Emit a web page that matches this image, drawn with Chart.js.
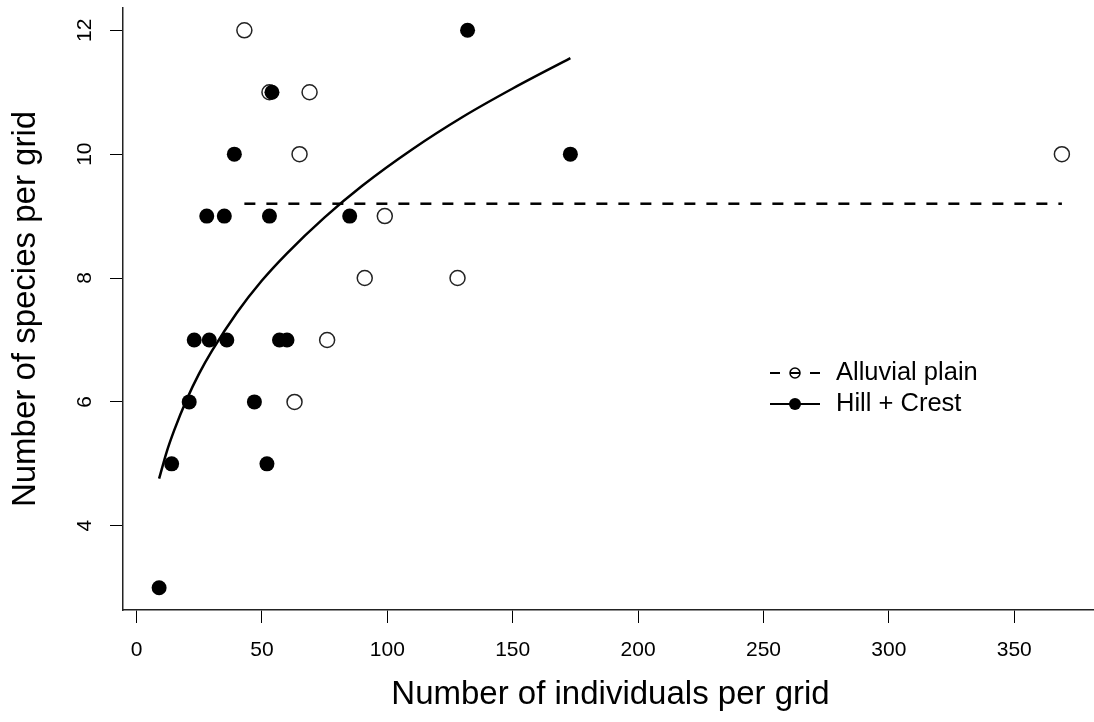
<!DOCTYPE html>
<html>
<head>
<meta charset="utf-8">
<title>Species vs individuals per grid</title>
<script src="https://cdn.jsdelivr.net/npm/chart.js@4.4.1/dist/chart.umd.min.js"></script>
<style>
    html, body { margin: 0; padding: 0; background: #fff; overflow: hidden; }
    #wrap { width: 1100px; height: 722px; }
</style>
</head>
<body>
<div id="wrap"><canvas id="speciesChart" width="1100" height="722"></canvas></div>
<script>
// Alluvial plain grids (open circles)
const alluvialX = [43, 53, 69, 65, 369, 99, 91, 128, 76, 63];
const alluvialY = [12, 11, 11, 10, 10, 9, 8, 8, 7, 6];

// Hill + Crest grids (filled circles)
const hillX = [132, 54, 39, 173, 28, 35, 53, 85, 23, 29, 36, 57, 60, 21, 47, 14, 52, 9];
const hillY = [12, 11, 10, 10, 9, 9, 9, 9, 7, 7, 7, 7, 7, 6, 6, 5, 5, 3];

// Fitted curve for Hill + Crest
const hillFitX = [9, 12, 15, 20, 25, 30, 40, 50, 60, 75, 90, 110, 130, 150, 173];
const hillFitY = [4.76, 5.19, 5.54, 6.04, 6.46, 6.82, 7.44, 7.96, 8.40, 8.98, 9.49, 10.08, 10.60, 11.06, 11.55];

// Mean line for Alluvial plain
const alluvialMeanX = [43, 369];
const alluvialMeanY = [9.2, 9.2];

// Axis ticks
const xTicks = [0, 50, 100, 150, 200, 250, 300, 350];
const yTicks = [4, 6, 8, 10, 12];

const legendItems = ['Alluvial plain', 'Hill + Crest'];

const FONT = '"Liberation Sans", Arial, Helvetica, sans-serif';

function toPoints(xs, ys) {
    return xs.map((x, i) => ({ x: x, y: ys[i] }));
}

// R style legend drawn inside the plot area
const insideLegend = {
    id: 'insideLegend',
    afterDraw(chart) {
        const ctx = chart.ctx;
        const x0 = 770, x1 = 820, xm = 795;
        const rows = [373, 404];
        ctx.save();
        ctx.strokeStyle = '#000';
        ctx.fillStyle = '#000';
        ctx.lineWidth = 2;

        // dashed line with open circle
        ctx.setLineDash([10, 10]);
        ctx.beginPath();
        ctx.moveTo(x0, rows[0]);
        ctx.lineTo(x1, rows[0]);
        ctx.stroke();
        ctx.setLineDash([]);
        ctx.lineWidth = 1.5;
        ctx.beginPath();
        ctx.arc(xm, rows[0], 5, 0, Math.PI * 2);
        ctx.stroke();

        // solid line with filled circle
        ctx.lineWidth = 2;
        ctx.beginPath();
        ctx.moveTo(x0, rows[1]);
        ctx.lineTo(x1, rows[1]);
        ctx.stroke();
        ctx.beginPath();
        ctx.arc(xm, rows[1], 6, 0, Math.PI * 2);
        ctx.fill();

        ctx.font = '25.5px ' + FONT;
        ctx.textBaseline = 'middle';
        ctx.textAlign = 'left';
        legendItems.forEach((label, i) => {
            ctx.fillText(label, 836, rows[i]);
        });
        ctx.restore();
    }
};

function createSpeciesChart() {
    const ctx = document.getElementById('speciesChart');
    if (!ctx) return;

    new Chart(ctx, {
        type: 'scatter',
        data: {
            datasets: [
                {
                    label: 'Hill + Crest',
                    data: toPoints(hillX, hillY),
                    pointRadius: 7.5,
                    pointBackgroundColor: '#000',
                    pointBorderColor: '#000',
                    pointBorderWidth: 0,
                    order: 0
                },
                {
                    label: 'Alluvial plain',
                    data: toPoints(alluvialX, alluvialY),
                    pointRadius: 7.5,
                    pointBackgroundColor: 'rgba(0,0,0,0)',
                    pointBorderColor: '#222',
                    pointBorderWidth: 1.5,
                    order: 1
                },
                {
                    label: 'Hill + Crest fit',
                    type: 'line',
                    data: toPoints(hillFitX, hillFitY),
                    borderColor: '#000',
                    borderWidth: 2.5,
                    pointRadius: 0,
                    cubicInterpolationMode: 'monotone',
                    fill: false,
                    order: 2
                },
                {
                    label: 'Alluvial plain mean',
                    type: 'line',
                    data: toPoints(alluvialMeanX, alluvialMeanY),
                    borderColor: '#000',
                    borderWidth: 2.5,
                    borderDash: [11, 11],
                    pointRadius: 0,
                    fill: false,
                    order: 3
                }
            ]
        },
        options: {
            responsive: false,
            animation: false,
            devicePixelRatio: 1,
            layout: {
                autoPadding: false,
                padding: { left: 0, top: 8, right: 2, bottom: 0 }
            },
            plugins: {
                legend: { display: false },
                tooltip: { enabled: false }
            },
            scales: {
                x: {
                    type: 'linear',
                    min: -5.4,
                    max: 383.4,
                    afterBuildTicks: scale => { scale.ticks = xTicks.map(v => ({ value: v })); },
                    afterFit: scale => {
                        scale.height = 112;
                        scale.paddingLeft = 0;
                        scale.paddingRight = 0;
                    },
                    grid: { drawOnChartArea: false, tickLength: 13, color: '#000', lineWidth: 1 },
                    border: { display: true, color: '#222', width: 1.5 },
                    ticks: {
                        color: '#000',
                        font: { size: 21, family: FONT },
                        padding: 15,
                        maxRotation: 0
                    },
                    title: {
                        display: true,
                        text: 'Number of individuals per grid',
                        color: '#000',
                        font: { size: 33, family: FONT },
                        padding: { top: 0, bottom: 7 }
                    }
                },
                y: {
                    type: 'linear',
                    min: 2.64,
                    max: 12.36,
                    afterBuildTicks: scale => { scale.ticks = yTicks.map(v => ({ value: v })); },
                    afterFit: scale => {
                        scale.width = 123;
                        scale.paddingTop = 0;
                        scale.paddingBottom = 0;
                    },
                    grid: { drawOnChartArea: false, tickLength: 13, color: '#000', lineWidth: 1 },
                    border: { display: true, color: '#222', width: 1.5 },
                    ticks: {
                        color: '#000',
                        font: { size: 21, family: FONT },
                        padding: 13,
                        minRotation: 90,
                        maxRotation: 90,
                        crossAlign: 'center'
                    },
                    title: {
                        display: true,
                        text: 'Number of species per grid',
                        color: '#000',
                        font: { size: 33, family: FONT },
                        padding: { top: 6, bottom: 0 }
                    }
                }
            }
        },
        plugins: [insideLegend]
    });
}

document.addEventListener('DOMContentLoaded', function() {
    createSpeciesChart();
});
</script>
</body>
</html>
